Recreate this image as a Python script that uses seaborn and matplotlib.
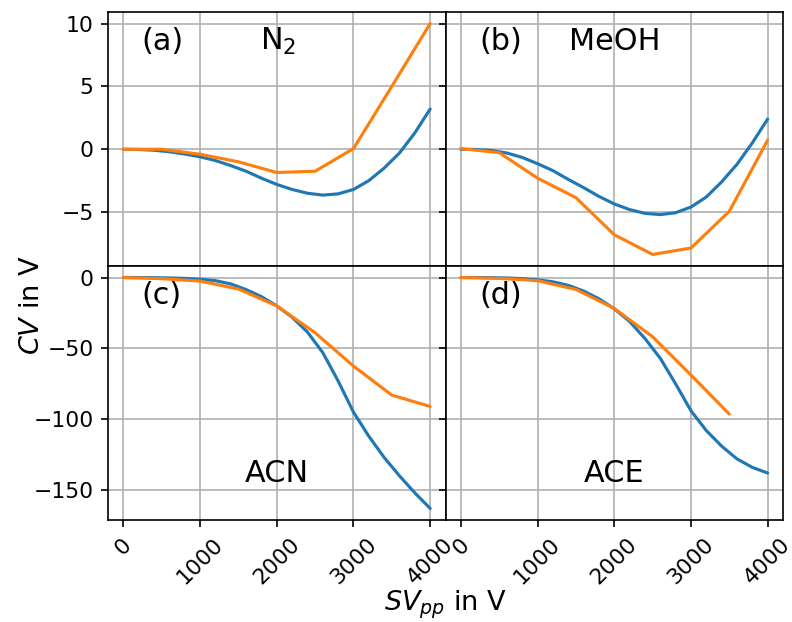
import pandas as pd
import matplotlib
matplotlib.use('Agg')
import matplotlib.pyplot as plt
import seaborn as sns

# ─────────────────────────────────────────────
# DATA
# ─────────────────────────────────────────────
sv_fine = [0, 200, 400, 600, 800, 1000, 1200, 1400, 1600, 1800, 2000,
           2200, 2400, 2600, 2800, 3000, 3200, 3400, 3600, 3800, 4000]
sv_coarse = [0, 500, 1000, 1500, 2000, 2500, 3000, 3500, 4000]

n2_model = [0, -0.02, -0.08, -0.2, -0.38, -0.6, -0.9, -1.3, -1.75, -2.3, -2.8,
            -3.2, -3.5, -3.65, -3.55, -3.2, -2.5, -1.5, -0.3, 1.3, 3.2]
meoh_model = [0, -0.02, -0.1, -0.3, -0.65, -1.15, -1.7, -2.4, -3.05, -3.75, -4.35,
              -4.8, -5.1, -5.2, -5.05, -4.6, -3.8, -2.6, -1.2, 0.5, 2.4]
acn_model = [0, 0, -0.1, -0.3, -0.6, -1.2, -2.2, -4.5, -8.5, -13.5, -20,
             -28, -38.5, -53, -73, -95, -112, -127, -140, -152, -163]
ace_model = [0, 0, -0.1, -0.3, -0.8, -1.6, -3, -5.5, -9.5, -15, -22,
             -31, -43, -57, -75, -94, -108, -119, -128, -134, -138]

n2_meas = [0, 0, -0.4, -1.0, -1.85, -1.75, 0.05, 5.0, 10.0]
meoh_meas = [0.05, -0.27, -2.3, -3.85, -6.8, -8.37, -7.86, -4.94, 0.72]
acn_meas = [0, -0.8, -2.5, -8.1, -20, -39, -62.5, -83, -91]
ace_meas = [0, -0.6, -2.2, -8.4, -21.8, -41.8, -68.8, -96.4]

panels = [
    ('(a)', 'N$_2$', n2_model, n2_meas, 0.45, 0.85),
    ('(b)', 'MeOH', meoh_model, meoh_meas, 0.365, 0.85),
    ('(c)', 'ACN', acn_model, acn_meas, 0.405, 0.15),
    ('(d)', 'ACE', ace_model, ace_meas, 0.41, 0.15),
]

# ─────────────────────────────────────────────
# STYLE
# ─────────────────────────────────────────────
sns.set_theme(style='ticks', rc={
    'axes.edgecolor': 'black',
    'axes.linewidth': 0.8,
    'grid.color': '#b0b0b0',
    'grid.linewidth': 0.8,
    'text.color': 'black',
    'axes.labelcolor': 'black',
    'xtick.color': 'black',
    'ytick.color': 'black',
    'xtick.major.size': 3.5,
    'ytick.major.size': 3.5,
    'xtick.major.width': 0.8,
    'ytick.major.width': 0.8,
    'xtick.labelsize': 10.5,
    'ytick.labelsize': 10.5,
})
plt.rcParams['font.family'] = ['DejaVu Sans']

blue, orange = '#1f77b4', '#ff7f0e'

fig, axes = plt.subplots(2, 2, sharex=True, sharey='row', figsize=(5.28, 4.1467), dpi=150)
fig.subplots_adjust(left=0.1364, right=0.9886, top=0.9807, bottom=0.164, wspace=0, hspace=0)

for ax, (tag, name, model, meas, nx, ny) in zip(axes.flat, panels):
    df_model = pd.DataFrame({'sv': sv_fine, 'cv': model})
    df_meas = pd.DataFrame({'sv': sv_coarse[:len(meas)], 'cv': meas})
    sns.lineplot(data=df_model, x='sv', y='cv', ax=ax, color=blue, linewidth=1.5)
    sns.lineplot(data=df_meas, x='sv', y='cv', ax=ax, color=orange, linewidth=1.5)
    ax.grid(True)
    ax.set_xlabel('')
    ax.set_ylabel('')
    ax.text(0.10, 0.85, tag, transform=ax.transAxes, fontsize=14.5)
    ax.text(nx, ny, name, transform=ax.transAxes, fontsize=14.5)

for ax in axes[1]:
    ax.tick_params(axis='x', labelrotation=45)

fig.text(0.04, 1 - 305 / 622, r'$CV$ in V', rotation=90, ha='center', va='center', fontsize=13)
fig.text(0.5625, 1 - 605 / 622, r'$SV_{pp}$ in V', ha='center', va='center', fontsize=13)

fig.savefig('out.png', dpi=150)
plt.close()
